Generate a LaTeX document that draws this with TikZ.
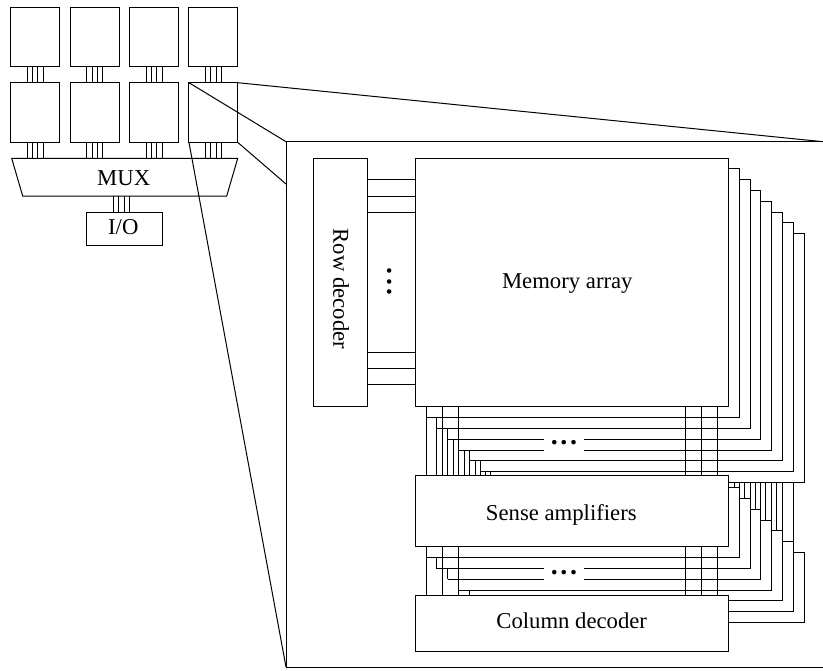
\documentclass[tikz,border=0pt]{standalone}
\usepackage{fontspec}
\setmainfont{Liberation Serif}
\usetikzlibrary{calc}
\tikzset{
  block/.style={draw,inner sep=0pt,outer sep=0pt},
  plain/.style={inner sep=0pt,outer sep=0pt},
  lbl/.style={inner sep=0pt,anchor=base,font=\fontsize{22.7}{24}\selectfont},
  gapdots/.style={fill=white,inner sep=0pt,minimum width=39.3pt,minimum height=18pt,font=\fontsize{28}{30}\selectfont}
}
\begin{document}
\begin{tikzpicture}[x=1pt,y=-1pt,line width=1pt]
\useasboundingbox (0,0) rectangle (823,671);
% chip overview
\foreach \i/\x in {1/35.2,2/94.7,3/154,4/213.3} {
  \node[block,minimum width=48.7pt,minimum height=59.4pt] (top\i) at (\x,37) {};
  \node[block,minimum width=48.7pt,minimum height=59.6pt] (mid\i) at (\x,112.5) {};
}
\node[plain,minimum width=226pt,minimum height=37.7pt] (mux) at (124.7,177.2) {};
\draw (mux.north west) -- (mux.north east) -- ([xshift=-11pt]mux.south east) -- ([xshift=11pt]mux.south west) -- cycle;
\node[lbl] (muxtxt) at (123.7,185.7) {MUX};
\node[block,minimum width=75.6pt,minimum height=32.7pt] (io) at (124.5,228.7) {};
\node[lbl] (iotxt) at (123.3,234.3) {I/O};
\foreach \i in {1,...,4} \foreach \o in {-8,-2.7,2.7,8} {
  \draw ($(top\i.south)+(\o,0)$) -- ($(mid\i.north)+(\o,0)$);
  \draw ($(mid\i.south)+(\o,0)$) -- ($(mid\i.south |- mux.north)+(\o,0)$);
}
\foreach \o in {-11.2,-5.8,-0.5,4.8}
  \draw ($(io.north)+(\o,0)$) -- ($(io.north |- mux.south)+(\o,0)$);
% enlarged bank
\coordinate (zoomtl) at (286,141.7);
\coordinate (zoomtr) at (823,141.7);
\coordinate (zoomml) at (286,184);
\coordinate (zoombl) at (286,667);
\coordinate (zoombr) at (823,667);
\draw (zoomtr) -- (zoomtl) -- (zoombl) -- (zoombr);
\draw (mid4.north east) -- (zoomtr);
\draw (mid4.north west) -- (zoomtl);
\draw (mid4.south east) -- (zoomml);
\draw (mid4.south west) -- (zoombl);
\node[block,minimum width=54pt,minimum height=248pt] (row) at (340,282.3) {};
\node[block,minimum width=313.4pt,minimum height=248.4pt] (array) at (572,282.5) {};
\node[block,minimum width=313.4pt,minimum height=70.7pt] (sense) at (572,511.3) {};
\node[block,minimum width=313.4pt,minimum height=55.7pt] (coldec) at (572,623.2) {};
\node[lbl,rotate=-90] (rowtxt) at (333.3,288.8) {Row decoder};
\node[lbl] (arraytxt) at (567.3,288.3) {Memory array};
\node[lbl] (sensetxt) at (561.3,520.7) {Sense amplifiers};
\node[lbl] (coltxt) at (571.7,628.3) {Column decoder};
\foreach \y in {180,196.3,212.3,352.3,369,385} {
  \coordinate (w) at (0,\y);
  \draw (row.east |- w) -- (array.west |- w);
}
% sheets behind the array
\foreach \xa/\xb/\yt/\yb/\xl in {728.7/739.3/169/417.3/426,739.3/750/180/428.3/436.7,
    750/760.7/190.7/439/447.7,760.7/771.7/201.3/450/458.3,771.7/782.3/212.3/460.7/469.3,
    782.3/793.3/223/471.3/480.3} {
  \coordinate (w) at (\xl,\yb);
  \draw (\xa,\yt) -- (\xb,\yt) -- (\xb,\yb) -- (w) -- (w |- sense.north);
}
\draw (793.3,234) -- (804,234) -- (804,482) -- (728.7,482);
\foreach \x in {426,442.3,458.3,685.3,701.7,717.7} {
  \coordinate (w) at (\x,0);
  \draw (w |- array.south) -- (w |- sense.north);
  \draw (w |- sense.south) -- (w |- coldec.north);
}
\foreach \x/\y in {436.7/417.3,447.7/428.3,453/439,464/450,469.3/450,475/460.7,480.3/460.7,485.7/471.3,490.7/471.3} {
  \coordinate (w) at (\x,\y);
  \draw (w) -- (w |- sense.north);
}
% sheets behind the sense amplifiers
\foreach \xa/\xb/\yt/\yb in {728.7/739.3/487.3/557.5,739.3/750/498.3/568.5,750/760.7/509.3/579,
    760.7/771.7/520/590,771.7/782.3/530.7/600.7,782.3/793.3/541.3/611.7,793.3/804/552/622.3}
  \draw (\xa,\yt) -- (\xb,\yt) -- (\xb,\yb) -- (728.7,\yb);
\foreach \x/\y in {734/487.3,739.3/557.5,744.3/498.3,750/568.5,755/509.3,760.7/579,765.7/520,771.7/590,776.7/530.7,782.3/600.7,793.3/611.7}
  \draw (\x,482) -- (\x,\y);
\foreach \xa/\xb/\y in {426/739.3/557.5,436.7/750/568.5,447.7/760.7/579,458.3/771.7/590}
  \draw (\xa,\y) -- (\xb,\y);
\draw (436.7,557.5) -- (436.7,568.5);
\draw (447.7,568.5) -- (447.7,579);
\draw (469.3,590) -- (469.3,595.3);
% dots over the lines
\node[gapdots] (dotsa) at (564,442.3) {\textbf{.\kern2.7pt.\kern2.7pt.}};
\node[gapdots] (dotsb) at (564,572.3) {\textbf{.\kern2.7pt.\kern2.7pt.}};
\node[inner sep=0pt,rotate=90,font=\fontsize{28}{30}\selectfont] (dotsc) at (390,281.5) {\textbf{.\kern3.7pt.\kern3.7pt.}};
\end{tikzpicture}
\end{document}
